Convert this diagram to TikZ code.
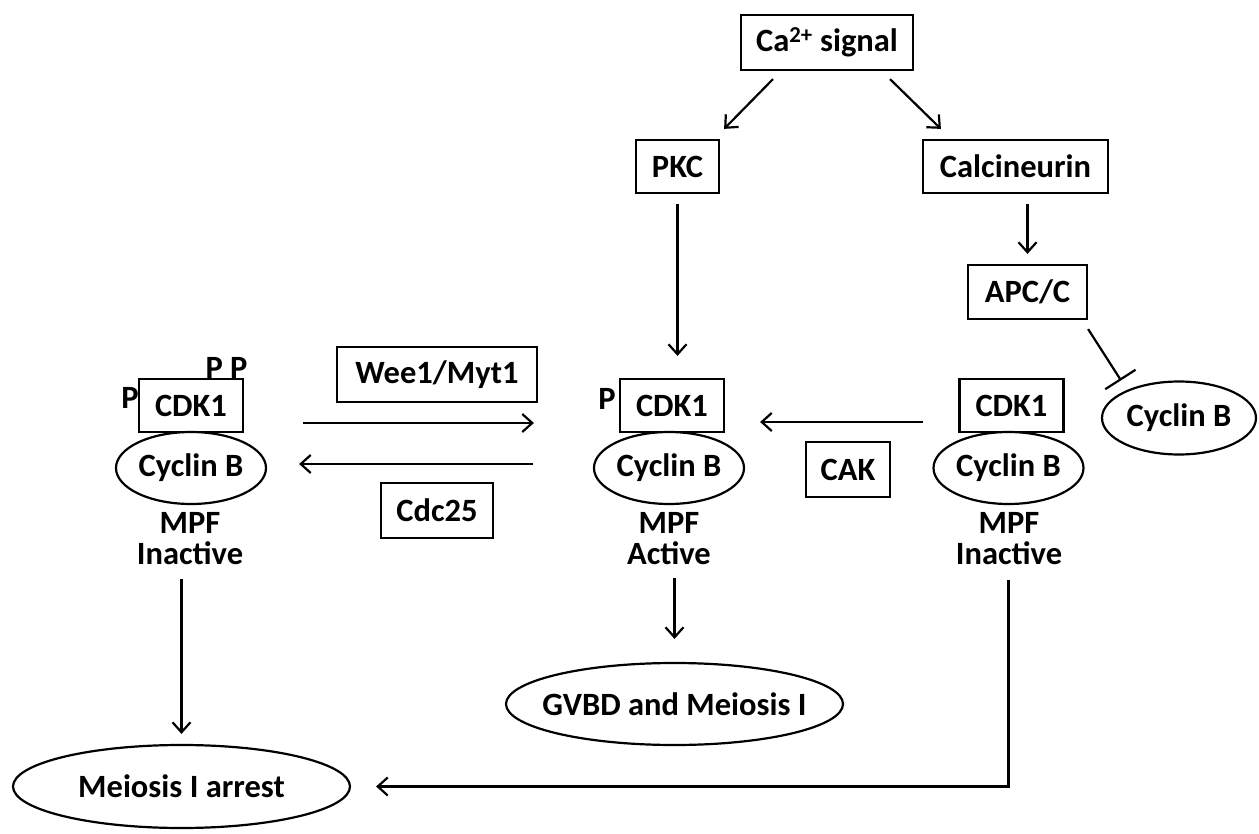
\documentclass[tikz,border=0pt]{standalone}
\usepackage{fontspec}
\setmainfont{Carlito}
\usetikzlibrary{arrows.meta,shapes.geometric}

\tikzset{every picture/.style={line width=2.2pt}}
\tikzset{
  lbl/.style={font=\fontsize{32.5}{31}\selectfont\bfseries, inner sep=0pt},
  molbox/.style={lbl, draw, minimum height=53pt},
  molell/.style={lbl, draw, ellipse, minimum width=150pt, minimum height=72pt},
  arr/.style={-{Straight Barb[length=10pt,width=18pt]}},
  blk/.style={-{Bar[width=36pt]}}
}

\begin{document}
\begin{tikzpicture}[x=1pt, y=-1pt]
\useasboundingbox (0,0) rectangle (1259,834);

% calcium branch
\node[molbox, minimum width=172pt, minimum height=55pt] (ca) at (827,42.5) {Ca\textsuperscript{2+} signal};
\node[molbox, minimum width=83pt] (pkc) at (677.5,166.5) {PKC};
\node[molbox, minimum width=185pt] (calc) at (1015.5,166.5) {Calcineurin};
\node[molbox, minimum width=119pt, minimum height=54pt] (apc) at (1027.5,292) {APC/C};
\node[molell, minimum width=154pt, minimum height=73pt] (cycfree) at (1179,418) {Cyclin B};

% MPF complexes
\node[molbox, minimum width=104pt] (cdkL) at (191,405.5) {CDK1};
\node[molell] (cycL) at (191,468) {Cyclin B};
\node[lbl] (pL) at (130,398) {P};
\node[lbl] (ppL) at (226.5,368) {P P};
\node[lbl, align=center, anchor=base] (mpfL) at (190,564) {MPF\\Inactive};

\node[molbox, minimum width=104pt] (cdkM) at (672,405.5) {CDK1};
\node[molell] (cycM) at (669,468) {Cyclin B};
\node[lbl] (pM) at (607,399) {P};
\node[lbl, align=center, anchor=base] (mpfM) at (669,564) {MPF\\Active};

\node[molbox, minimum width=104pt] (cdkR) at (1011.5,405.5) {CDK1};
\node[molell] (cycRi) at (1008.5,468) {Cyclin B};
\node[lbl, align=center, anchor=base] (mpfR) at (1009,564) {MPF\\Inactive};

% kinases / phosphatases
\node[molbox, minimum width=200pt, minimum height=55pt] (wee) at (437,374.5) {Wee1/Myt1};
\node[molbox, minimum width=112pt, minimum height=55pt] (cdc) at (437,510.5) {Cdc25};
\node[molbox, minimum width=84pt, minimum height=55pt] (cak) at (848,469.5) {CAK};

% outcomes
\node[molell, inner xsep=-30pt, minimum width=337pt, minimum height=82pt] (gvbd) at (674.5,704) {GVBD and Meiosis I};
\node[molell, minimum width=337pt, minimum height=83pt] (arrest) at (181.5,786.5) {Meiosis I arrest};

\draw[arr] ([shift={(-54,8)}]ca.south) -- ([shift={(4,-10)}]pkc.north east);
\draw[arr] ([shift={(63,8)}]ca.south) -- ([shift={(19,-10)}]calc.north west);
\draw[arr] ([shift={(0,10)}]pkc.south) -- ([shift={(0,-22)}]pkc.south |- cdkM.north);
\draw[arr] ([shift={(0,10)}]apc.north |- calc.south) -- ([shift={(0,-10)}]apc.north);
\draw[blk] ([shift={(0,9)}]apc.south east) -- ([shift={(-58,0)}]cycfree.north);

\draw[arr] ([shift={(59,17.5)}]cdkL.east) -- ([shift={(-85,17.5)}]cdkM.west);
\draw[arr] ([shift={(-60,-4)}]cycM.west) -- ([shift={(32,-4)}]cycL.east);
\draw[arr] ([shift={(-35,16.5)}]cdkR.west) -- ([shift={(35,16.5)}]cdkM.east);

\draw[arr] ([shift={(0,-84)}]gvbd.north) -- ([shift={(0,-23)}]gvbd.north);
\draw[arr] ([shift={(0,-165)}]arrest.north) -- ([shift={(0,-10)}]arrest.north);
\draw[arr] ([shift={(0,74.5)}]cycRi.south) |- ([shift={(25,0)}]arrest.east);

\end{tikzpicture}
\end{document}
